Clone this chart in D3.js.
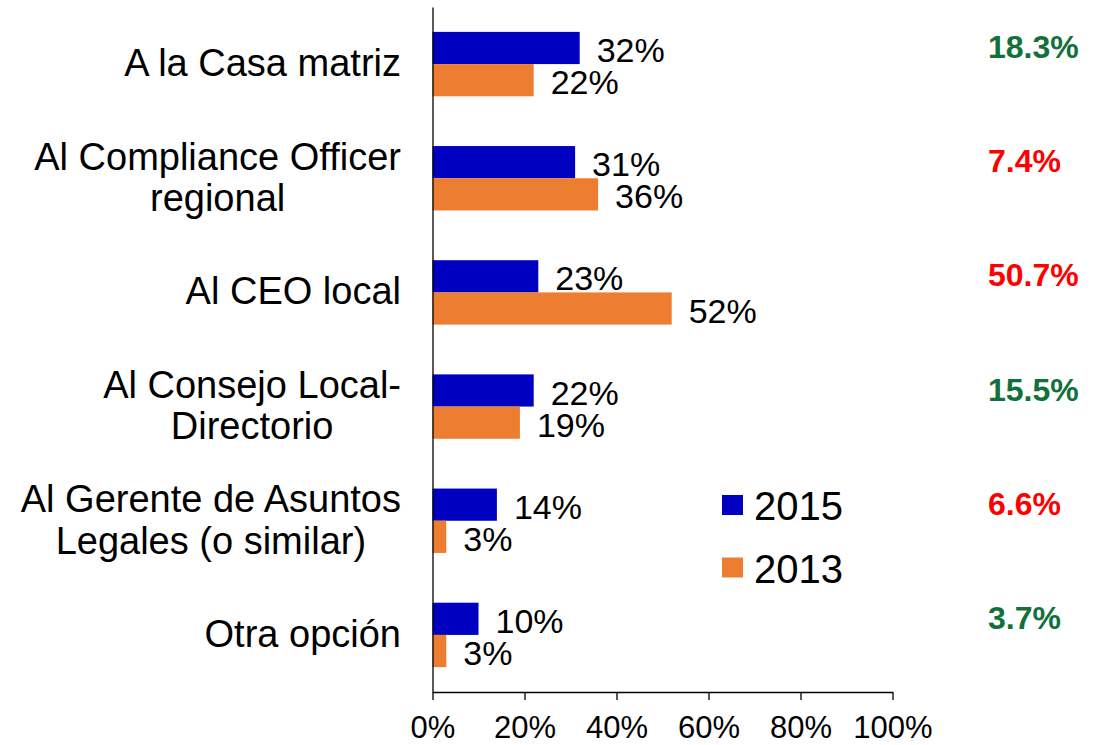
<!DOCTYPE html>
<html>
<head>
<meta charset="utf-8">
<script src="https://cdn.jsdelivr.net/npm/d3@7"></script>
<style>
  html, body { margin: 0; padding: 0; background: #fff; }
  svg { display: block; font-family: "Liberation Sans", Arial, sans-serif; }
</style>
</head>
<body>
<svg id="chart" width="1099" height="745"></svg>
<script>
// ---- data ----
const categories = [
  ["A la Casa matriz"],
  ["Al Compliance Officer", "regional"],
  ["Al CEO local"],
  ["Al Consejo Local-", "Directorio"],
  ["Al Gerente de Asuntos", "Legales (o similar)"],
  ["Otra opción"]
];
const seriesNames = ["2015", "2013"];
const values2015 = [32, 31, 23, 22, 14, 10];
const values2013 = [22, 36, 52, 19, 3, 3];
const changeLabels = ["18.3%", "7.4%", "50.7%", "15.5%", "6.6%", "3.7%"];
const changeDirection = ["up", "down", "down", "up", "down", "up"];
const xTicks = [0, 20, 40, 60, 80, 100];

// ---- styles ----
const colors = { "2015": "#0000C0", "2013": "#ED7D31" };
const changeColors = { up: "#12703A", down: "#FF0000" };

const svg = d3.select("#chart");
const catKeys = categories.map(c => c.join(" "));

const x = d3.scaleLinear().domain([0, 100]).range([432.5, 892.5]);
const y = d3.scaleBand().domain(catKeys).range([7, 692]).paddingInner(0).paddingOuter(0);
const step = y.bandwidth();
const barH = 32.2;
const y1 = d3.scaleBand().domain(seriesNames).range([step / 2 - barH, step / 2 + barH]);

const seriesData = { "2015": values2015, "2013": values2013 };

// bars
seriesNames.forEach(s => {
  const g = svg.append("g");
  g.selectAll("rect")
    .data(seriesData[s].map((v, i) => ({ v, c: catKeys[i] })))
    .join("rect")
    .attr("x", x(0))
    .attr("y", d => y(d.c) + y1(s))
    .attr("width", d => x(d.v) - x(0))
    .attr("height", y1.bandwidth())
    .attr("fill", colors[s]);

  g.selectAll("text")
    .data(seriesData[s].map((v, i) => ({ v, c: catKeys[i] })))
    .join("text")
    .attr("x", d => x(d.v) + 17)
    .attr("y", d => y(d.c) + y1(s) + y1.bandwidth() - 2)
    .attr("font-size", 34)
    .attr("fill", "#000")
    .text(d => d.v + "%");
});

// x axis
const xAxis = d3.axisBottom(x)
  .tickValues(xTicks)
  .tickFormat(d => d + "%")
  .tickSize(8)
  .tickSizeOuter(0)
  .tickPadding(16);
const gx = svg.append("g").attr("transform", "translate(0,692)").call(xAxis);
gx.select(".domain").attr("stroke", "#000").attr("stroke-width", 1.3);
gx.selectAll(".tick line").attr("stroke", "#000").attr("stroke-width", 1.3);
gx.selectAll(".tick text")
  .attr("font-size", 31)
  .attr("font-family", "Liberation Sans, Arial, sans-serif")
  .attr("fill", "#000");

// y axis line
const yAxis = d3.axisLeft(y).tickSize(0).tickSizeOuter(0).tickFormat("");
const gy = svg.append("g").attr("transform", `translate(${x(0)},0)`).call(yAxis);
gy.select(".domain").attr("stroke", "#000").attr("stroke-width", 1.3);

// category labels
const labelRight = 401;
const lineH = 41.5;
categories.forEach((lines, i) => {
  const cy = y(catKeys[i]) + step / 2;
  const t = svg.append("text")
    .attr("font-size", 38)
    .attr("fill", "#000")
    .attr("text-anchor", "middle");
  const n = lines.length;
  const spans = lines.map((ln, j) =>
    t.append("tspan").attr("y", cy + 12 + (j - (n - 1) / 2) * lineH).text(ln)
  );
  let maxW = 0;
  spans.forEach(sp => { maxW = Math.max(maxW, sp.node().getComputedTextLength()); });
  spans.forEach(sp => sp.attr("x", labelRight - maxW / 2));
});

// change labels on the right
svg.append("g").selectAll("text")
  .data(changeLabels.map((t, i) => ({ t, c: catKeys[i], d: changeDirection[i] })))
  .join("text")
  .attr("x", 988)
  .attr("y", d => y(d.c) + step / 2 - 6)
  .attr("font-size", 32)
  .attr("font-weight", "bold")
  .attr("fill", d => changeColors[d.d])
  .text(d => d.t);

// legend
const legend = svg.append("g").attr("transform", "translate(722,495)");
seriesNames.forEach((s, i) => {
  const g = legend.append("g").attr("transform", `translate(0,${i * 62.5})`);
  g.append("rect").attr("x", 0).attr("y", 0).attr("width", 21).attr("height", 20).attr("fill", colors[s]);
  g.append("text").attr("x", 32).attr("y", 25).attr("font-size", 40).attr("fill", "#000").text(s);
});
</script>
</body>
</html>
